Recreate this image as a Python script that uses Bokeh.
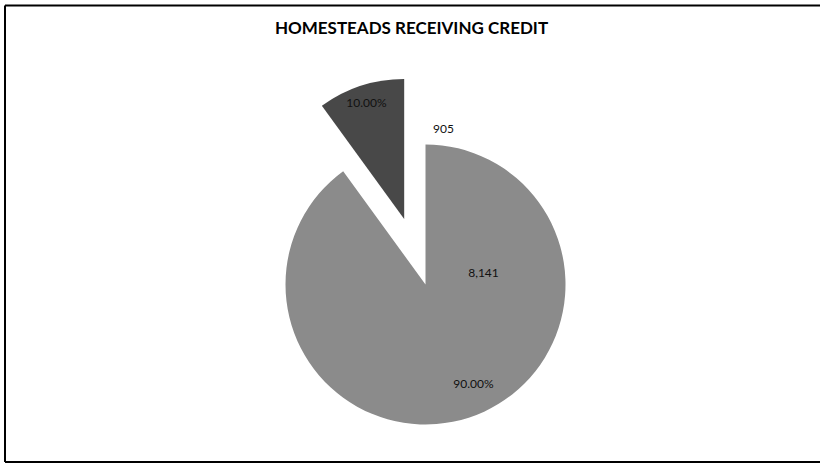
import math
from bokeh.plotting import figure
from bokeh.models import ColumnDataSource
from bokeh.core.properties import value
from bokeh.embed import file_html
from bokeh.resources import INLINE

title = "HOMESTEADS RECEIVING CREDIT"
categories = ["Not receiving", "Receiving credit"]
counts = [8141, 905]
colors = ["#8b8b8b", "#484848"]

W, H = 820, 465
cx, cy = 425, H - 284
R = 140
explode = [0, 69]

total = sum(counts)
starts, ends, xs, ys, pcts, cnt_lbl = [], [], [], [], [], []
a = math.pi / 2
# Excel-style: first slice clockwise from 12 o'clock
for i, c in enumerate(counts):
    sweep = 2 * math.pi * c / total
    s, e = a - sweep, a
    mid = (s + e) / 2
    xs.append(cx + explode[i] * math.cos(mid))
    ys.append(cy + explode[i] * math.sin(mid))
    starts.append(s)
    ends.append(e)
    pcts.append(f"{100 * c / total:.2f}%")
    cnt_lbl.append(f"{c:,}")
    a = s

src = ColumnDataSource(dict(x=xs, y=ys, start=starts, end=ends, color=colors))

p = figure(width=W, height=H, x_range=(0, W), y_range=(0, H),
           output_backend="svg", toolbar_location=None, min_border=0)
p.axis.visible = False
p.grid.visible = False
p.outline_line_color = None
p.background_fill_color = "white"
p.border_fill_color = "white"

p.wedge(x="x", y="y", radius=R, start_angle="start", end_angle="end",
        fill_color="color", line_color=None, source=src)

# label positions (offsets from pie centre, pixels)
cnt_pos = [(58, 12), (18, 156)]
pct_pos = [(48, -99), (-59, 182)]
lx = [cx + d[0] for d in cnt_pos] + [cx + d[0] for d in pct_pos]
ly = [cy + d[1] for d in cnt_pos] + [cy + d[1] for d in pct_pos]
lt = cnt_lbl + pcts
p.text(x=lx, y=ly, text=lt, text_align="center", text_baseline="middle",
       text_font=value("Lato"), text_font_size="12px", text_color="#111111")

p.text(x=[411], y=[H - 27], text=[title], text_align="center", text_baseline="middle",
       text_font=value("Lato"), text_font_size="17px", text_font_style="bold",
       text_color="black")

# chart border (right side lies beyond the window)
top, bottom, left = H - 5, H - 461.5, 4.5
p.segment(x0=[left, left, left], y0=[top, top, bottom],
          x1=[W, left, W], y1=[top, bottom, bottom],
          line_color="black", line_width=2)

open("out.html", "w").write(file_html(p, INLINE))
